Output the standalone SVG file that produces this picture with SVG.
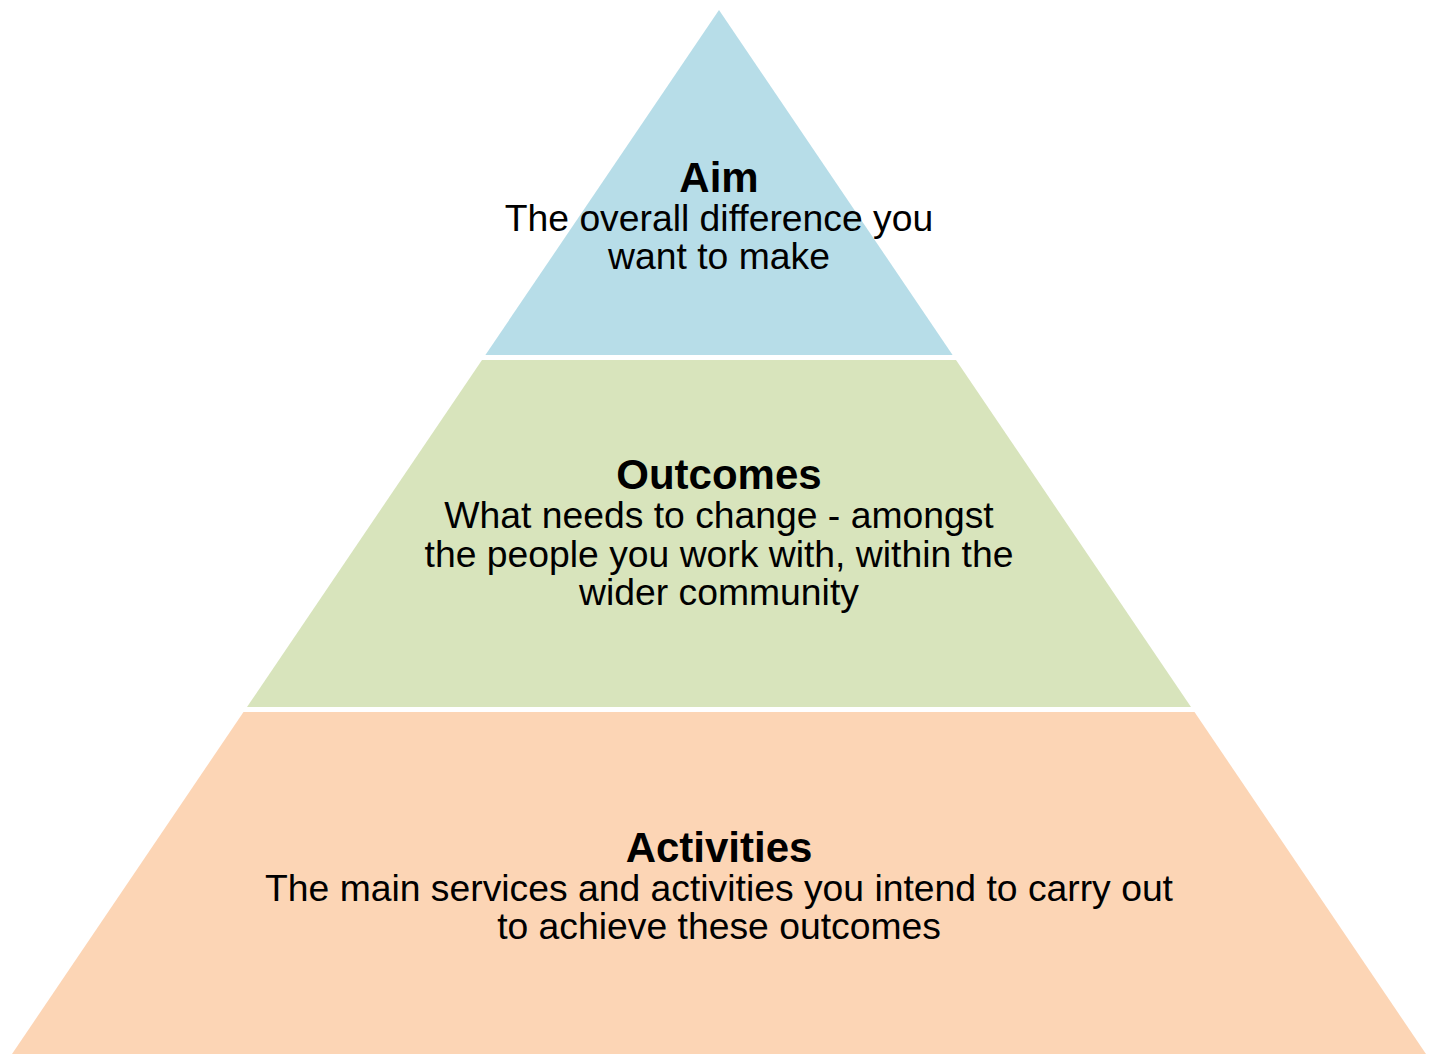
<svg xmlns="http://www.w3.org/2000/svg" width="1438" height="1054" viewBox="0 0 1438 1054">
<style>
.t{font-family:"Liberation Sans",Arial,sans-serif;fill:#000;text-anchor:middle}
.h{font-size:42px;font-weight:bold}
.b{font-size:37.3px}
</style>
<rect width="1438" height="1054" fill="#fff"/>
<g id="aim">
<polygon points="719,10 952.6,355 485.4,355" fill="#B7DDE8"/>
<text class="t h" x="719" y="192">Aim</text>
<text class="t b" x="719" y="231">The overall difference you</text>
<text class="t b" x="719" y="269">want to make</text>
</g>
<g id="outcomes">
<polygon points="482,360 956,360 1191,707 247,707" fill="#D8E4BC"/>
<text class="t h" x="719" y="489">Outcomes</text>
<text class="t b" x="719" y="528">What needs to change - amongst</text>
<text class="t b" x="719" y="567">the people you work with, within the</text>
<text class="t b" x="719" y="605">wider community</text>
</g>
<g id="activities">
<polygon points="243.5,712 1194.5,712 1426,1054 12,1054" fill="#FCD5B5"/>
<text class="t h" x="719" y="862">Activities</text>
<text class="t b" x="719" y="901">The main services and activities you intend to carry out</text>
<text class="t b" x="719" y="939">to achieve these outcomes</text>
</g>
<g id="connectors"></g>
</svg>
